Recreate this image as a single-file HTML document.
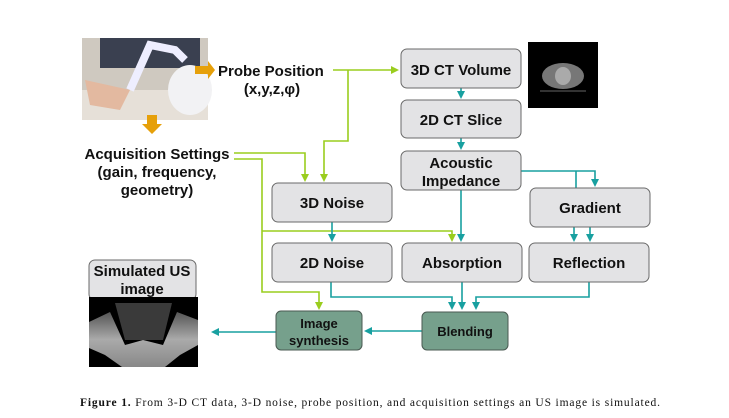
<!DOCTYPE html>
<html><head><meta charset="utf-8"><style>
body{margin:0;background:#fff;width:729px;height:413px;overflow:hidden}
svg text{font-family:"Liberation Sans",sans-serif;font-weight:bold;fill:#111}
</style></head><body>
<svg width="729" height="413" viewBox="0 0 729 413" xmlns="http://www.w3.org/2000/svg">
<defs>
<marker id="g" markerWidth="8" markerHeight="8" refX="6" refY="4" orient="auto" markerUnits="userSpaceOnUse"><path d="M0,0 L8,4 L0,8 z" fill="#9acd1e"/></marker>
<marker id="t" markerWidth="8" markerHeight="8" refX="6" refY="4" orient="auto" markerUnits="userSpaceOnUse"><path d="M0,0 L8,4 L0,8 z" fill="#18a0a0"/></marker>
<linearGradient id="us" x1="0" y1="0" x2="0" y2="1"><stop offset="0" stop-color="#555"/><stop offset="0.5" stop-color="#aaa"/><stop offset="1" stop-color="#888"/></linearGradient>
</defs>
<!-- photo -->
<rect x="82" y="38" width="126" height="82" fill="#cfc9c0"/>
<rect x="100" y="38" width="100" height="30" fill="#3a4050"/>
<rect x="82" y="90" width="126" height="30" fill="#e6e0d8"/>
<path d="M130,90 L150,45 L175,50 L185,60" stroke="#eef" stroke-width="8" fill="none"/>
<ellipse cx="190" cy="90" rx="22" ry="25" fill="#f2f2f4"/>
<path d="M85,80 L130,90 L120,110 L90,105z" fill="#e3b9a0"/>
<!-- orange arrows -->
<path d="M195,66 L208,66 L208,61 L215,70 L208,79 L208,74 L195,74z" fill="#e6a00a"/>
<path d="M147,115 L157,115 L157,124 L162,124 L152,134 L142,124 L147,124z" fill="#e6a00a"/>
<text x="218" y="76" font-size="15">Probe Position</text>
<text x="272" y="94" font-size="15" text-anchor="middle">(x,y,z,φ)</text>
<text x="157" y="159" font-size="15" text-anchor="middle">Acquisition Settings</text>
<text x="157" y="177" font-size="15" text-anchor="middle">(gain, frequency,</text>
<text x="157" y="195" font-size="15" text-anchor="middle">geometry)</text>
<!-- CT image -->
<rect x="528" y="42" width="70" height="66" fill="#000"/>
<ellipse cx="563" cy="76" rx="21" ry="13" fill="#777"/>
<ellipse cx="563" cy="76" rx="8" ry="9" fill="#aaa"/>
<line x1="540" y1="91" x2="586" y2="91" stroke="#666"/>
<!-- green lines -->
<g stroke="#9acd1e" stroke-width="1.6" fill="none">
<path d="M333,70 L397,70" marker-end="url(#g)"/>
<path d="M348,70 L348,141 L324,141 L324,180" marker-end="url(#g)"/>
<path d="M234,153 L305,153 L305,180" marker-end="url(#g)"/>
<path d="M234,159 L262,159 L262,292 L319,292 L319,308" marker-end="url(#g)"/>
<path d="M262,231 L452,231 L452,240" marker-end="url(#g)"/>
</g>
<!-- teal lines -->
<g stroke="#18a0a0" stroke-width="1.6" fill="none">
<path d="M461,88 L461,97" marker-end="url(#t)"/>
<path d="M461,138 L461,148" marker-end="url(#t)"/>
<path d="M521,171 L595,171 L595,185" marker-end="url(#t)"/>
<path d="M576,171 L576,188"/>
<path d="M461,190 L461,240" marker-end="url(#t)"/>
<path d="M332,222 L332,240" marker-end="url(#t)"/>
<path d="M574,227 L574,240" marker-end="url(#t)"/>
<path d="M590,227 L590,240" marker-end="url(#t)"/>
<path d="M331,282 L331,297 L452,297 L452,308" marker-end="url(#t)"/>
<path d="M462,282 L462,308" marker-end="url(#t)"/>
<path d="M589,282 L589,297 L476,297 L476,308" marker-end="url(#t)"/>
<path d="M422,331 L366,331" marker-end="url(#t)"/>
<path d="M276,332 L213,332" marker-end="url(#t)"/>
</g>
<!-- gray boxes -->
<g fill="#e3e3e5" stroke="#6a6a6a" stroke-width="1">
<rect x="272" y="183" width="120" height="39" rx="6"/>
<rect x="401" y="49" width="120" height="39" rx="6"/>
<rect x="401" y="100" width="120" height="38" rx="6"/>
<rect x="401" y="151" width="120" height="39" rx="6"/>
<rect x="530" y="188" width="120" height="39" rx="6"/>
<rect x="272" y="243" width="120" height="39" rx="6"/>
<rect x="402" y="243" width="120" height="39" rx="6"/>
<rect x="529" y="243" width="120" height="39" rx="6"/>
<rect x="89" y="260" width="107" height="40" rx="6"/>
</g>
<g fill="#76a08c" stroke="#4a5a52" stroke-width="1">
<rect x="276" y="311" width="86" height="39" rx="5"/>
<rect x="422" y="312" width="86" height="38" rx="5"/>
</g>
<!-- US image -->
<rect x="89" y="297" width="109" height="70" fill="#000"/>
<path d="M89,322 L110,312 L125,345 L143,340 L163,345 L177,312 L198,320 L198,345 L180,355 L165,367 L122,367 L105,355 L89,348z" fill="url(#us)"/>
<path d="M115,303 L125,340 L163,340 L172,303z" fill="#3a3a3a"/>
<g font-size="15" text-anchor="middle">
<text x="332" y="208">3D Noise</text>
<text x="461" y="75">3D CT Volume</text>
<text x="461" y="125">2D CT Slice</text>
<text x="461" y="168">Acoustic</text>
<text x="461" y="186">Impedance</text>
<text x="590" y="213">Gradient</text>
<text x="332" y="268">2D Noise</text>
<text x="462" y="268">Absorption</text>
<text x="589" y="268">Reflection</text>
<text x="142" y="276">Simulated US</text>
<text x="142" y="294">image</text>
</g>
<g font-size="13" text-anchor="middle">
<text x="319" y="328">Image</text>
<text x="319" y="345">synthesis</text>
<text x="465" y="336">Blending</text>
</g>
<text x="80" y="406" font-size="11.5" textLength="580" lengthAdjust="spacing" style="font-family:'Liberation Serif',serif;font-weight:normal"><tspan font-weight="bold">Figure 1.</tspan> From 3-D CT data, 3-D noise, probe position, and acquisition settings an US image is simulated.</text>
</svg>
</body></html>
